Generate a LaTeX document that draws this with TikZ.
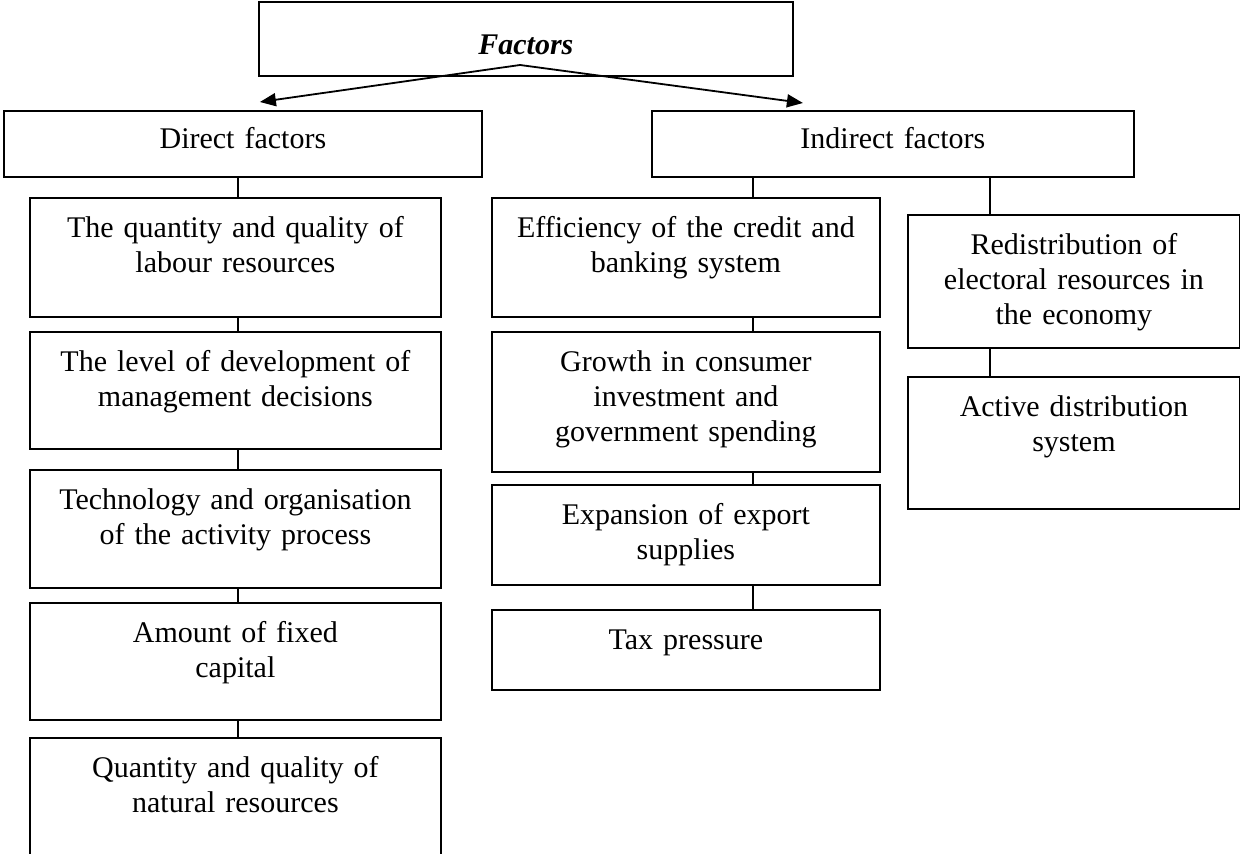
\documentclass[tikz,border=0pt]{standalone}
\usepackage{fontspec}
\setmainfont{Liberation Serif}
\usetikzlibrary{arrows.meta,calc}
\tikzset{
  box/.style={draw, line width=0.9pt, inner sep=0pt, anchor=north west, align=center,
    font=\fontsize{15}{17.5}\selectfont, text height=20pt},
  link/.style={line width=0.8pt},
  arr/.style={line width=0.9pt, -{Triangle[length=8pt,width=6.5pt]}}
}
\begin{document}
\begin{tikzpicture}[x=0.5pt, y=-0.5pt]
\useasboundingbox (0,0) rectangle (1240,854);
\node[box, text width=267pt, text height=26pt, text depth=10.75pt,
  font=\fontsize{15}{17.5}\selectfont\bfseries\itshape] (factors) at (258,1.5) {Factors};
\node[box, text width=239pt, text height=19pt, text depth=14pt] (direct) at (3,110) {Direct factors};
\node[box, text width=241pt, text height=19pt, text depth=14pt] (indirect) at (651,110) {Indirect factors};
% direct factors
\node[box, text width=205.5pt, text depth=39.5pt] (lab) at (29,197) {The quantity and quality of\\labour resources};
\node[box, text width=205.5pt, text depth=38.5pt] (mgmt) at (29,331) {The level of development of\\management decisions};
\node[box, text width=205.5pt, text depth=39pt] (tech) at (29,469) {Technology and organisation\\of the activity process};
\node[box, text width=205.5pt, text depth=38.5pt] (capital) at (29,602) {Amount of fixed\\capital};
\node[box, text width=205.5pt, text depth=46.5pt] (natural) at (29,737) {Quantity and quality of\\natural resources};
% indirect factors
\node[box, text width=194pt, text depth=39.5pt] (credit) at (491,197) {Efficiency of the credit and\\banking system};
\node[box, text width=194pt, text depth=50pt] (growth) at (491,331) {Growth in consumer\\investment and\\government spending};
\node[box, text width=194pt, text depth=30pt] (export) at (491,484) {Expansion of export\\supplies};
\node[box, text width=194pt, text depth=20pt] (tax) at (491,609) {Tax pressure};
\node[box, text width=166pt, text depth=46.5pt] (redist) at (907,214) {Redistribution of\\electoral resources in\\the economy};
\node[box, text width=166pt, text depth=46pt] (active) at (907,376) {Active distribution\\system};
\coordinate (lft) at (238,0);
\coordinate (mid) at (753,0);
\coordinate (rgt) at (990,0);
\draw[link] (lft |- direct.south) -- (lft |- lab.north);
\foreach \a/\b in {lab/mgmt, mgmt/tech, tech/capital, capital/natural}
  \draw[link] (lft |- \a.south) -- (lft |- \b.north);
\draw[link] (mid |- indirect.south) -- (mid |- credit.north);
\foreach \a/\b in {credit/growth, growth/export, export/tax}
  \draw[link] (mid |- \a.south) -- (mid |- \b.north);
\draw[link] (rgt |- indirect.south) -- (rgt |- redist.north);
\draw[link] (rgt |- redist.south) -- (rgt |- active.north);
\coordinate (fork) at (520,65);
\draw[arr] (fork) -- ([xshift=8.5pt,yshift=4pt]direct.north);
\draw[arr] (fork) -- ([xshift=-45pt,yshift=3.5pt]indirect.north);
\end{tikzpicture}
\end{document}
